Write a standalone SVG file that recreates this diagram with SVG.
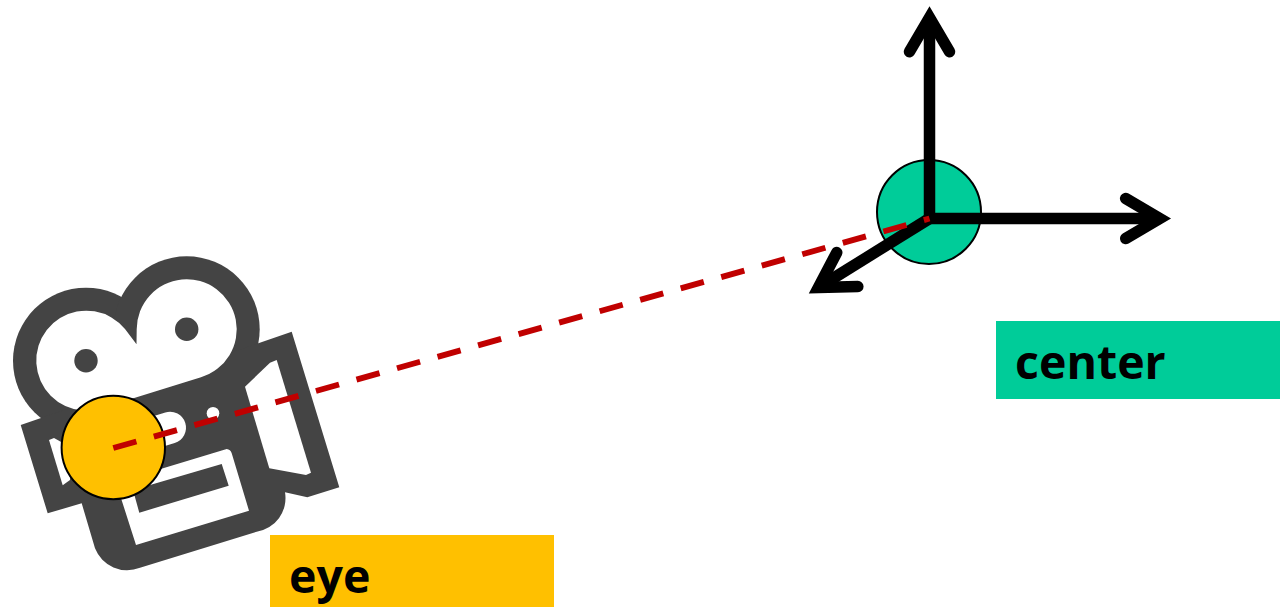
<svg xmlns="http://www.w3.org/2000/svg" width="1280" height="607" viewBox="0 0 1280 607">
<style>
.dark{fill:#444444}
.hole{fill:#ffffff}
.axis{fill:none;stroke:#000000;stroke-width:11.5;marker-end:url(#head)}
.dot{stroke:#000000;stroke-width:2}
.lbl{font-family:"Open Sans","Noto Sans",sans-serif;font-weight:700;font-size:46.5px;fill:#000000}
</style>
<defs>
<marker id="head" markerUnits="userSpaceOnUse" markerWidth="60" markerHeight="60" refX="45" refY="30" orient="auto" viewBox="0 0 60 60">
<path d="M11,10 L45,30 L11,50" fill="none" stroke="#000000" stroke-width="11.5" stroke-linecap="round" stroke-linejoin="miter"/>
</marker>
</defs>
<rect width="1280" height="607" fill="#ffffff"/>
<g id="camera">
<circle class="dark" cx="86" cy="360.7" r="73"/>
<circle class="dark" cx="186.7" cy="329.3" r="73"/>
<path class="dark" d="M20.7,425 L291.7,331.7 L339.3,487.3 L307.3,497.3 L285,492.3 A34,34 0 0 1 256.7,531.7 L140,567.7 A34.5,34.5 0 0 1 95,548.3 L81.7,503.3 L47.7,513.3 Z"/>
<path class="hole" d="M136.5,344.3 L125,329 A50,50 0 1 0 100.4,408.6 L201,377.2 A50,50 0 1 0 136.7,329.3 Z"/>
<circle class="dark" cx="86" cy="360.7" r="11.7"/>
<circle class="dark" cx="186.7" cy="329.3" r="11.7"/>
<path class="hole" d="M49,440 L54,438 L72,448 L70,480 L62.7,485.3 Z"/>
<path class="hole" d="M245,386.7 L270,362.7 L276.7,360 L311,472.7 L306,475 L269.3,468.3 Z"/>
<circle class="hole" cx="213" cy="413.3" r="6.3"/>
<path d="M130,440 L170,427.7" stroke="#ffffff" stroke-width="32" stroke-linecap="round" fill="none"/>
<path class="hole" fill-rule="evenodd" d="M116,482.5 L226.7,449 Q230.5,449.5 231.7,453.3 L249,510.7 L136,545 Z M133,490 L221.7,464 L228.7,485.7 L139.3,512.7 Z"/>
</g>
<g id="center-point">
<circle class="dot" cx="929" cy="212" r="52" fill="#00CC99"/>
</g>
<g id="eye-point">
<circle class="dot" cx="113.3" cy="447.5" r="51.7" fill="#FFC000"/>
</g>
<g id="connectors">
<path class="axis" d="M929.5,224 L929.5,17.7"/>
<path class="axis" d="M924,218.5 L1159.7,218.5"/>
<path class="axis" d="M929.5,218.5 L818.4,287.5"/>
<path d="M113.3,448 L929.5,218.5" fill="none" stroke="#C00000" stroke-width="5.9" stroke-dasharray="24 18.1"/>
</g>
<g id="center-label">
<rect x="996" y="321" width="284" height="78" fill="#00CC99"/>
<text class="lbl" x="1015" y="379">center</text>
</g>
<g id="eye-label">
<rect x="270" y="535" width="284" height="72" fill="#FFC000"/>
<text class="lbl" x="289" y="593">eye</text>
</g>
</svg>
